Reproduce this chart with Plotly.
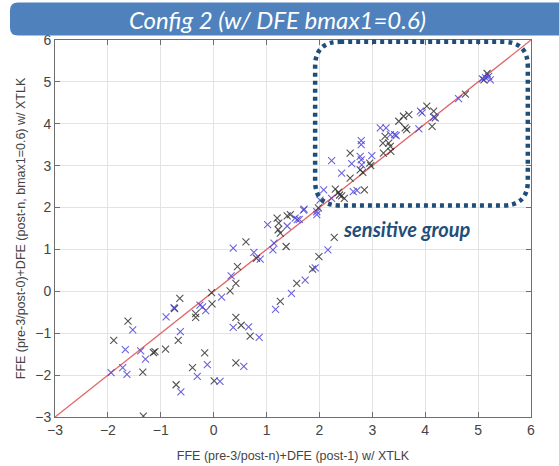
import plotly.graph_objects as go

# ---- data ----
black_x = [-1.62, -1.89, -1.34, -1.33, -1.14, -1.11, -0.91, -0.64, -0.74, -0.67, -0.34, -0.34,
           -0.17, -0.40, -0.71, -0.04, -0.03, 0.01,
           0.61, 0.81, 1.37, 0.31, 0.42, 0.45, 0.42, 0.52, 0.69, 0.42, 1.26, 1.57, 1.87, 1.99, 2.28,
           1.20, 1.23, 1.22, 1.26, 1.39, 1.45, 1.98,
           2.58, 2.58, 2.77, 2.82, 2.95, 2.97, 2.85, 2.30, 2.42, 2.47, 2.36, 2.38,
           3.24, 3.20, 3.31, 3.34, 3.35, 3.21,
           3.50, 3.59, 3.69, 3.62, 3.65,
           4.03, 4.16, 4.19, 4.13,
           4.76, 5.17, 5.11]
black_y = [-0.71, -1.17, -1.93, -2.98, -1.46, -1.44, -1.38, -0.17, -0.41, -1.17, -0.53, -0.62,
           -1.47, -1.82, -2.23, -0.03, -0.30, -2.14,
           1.18, 0.79, 1.07, 0.01, 0.19, 0.59, -0.62, -0.81, -1.07, -1.71, -0.24, 0.19, 0.53, 0.83, 1.29,
           1.75, 1.63, 1.47, 1.39, 1.80, 1.83, 1.99,
           3.30, 2.70, 2.90, 2.84, 3.06, 3.00, 2.42, 2.44, 2.28, 2.22, 2.36, 2.30,
           3.70, 3.54, 3.54, 3.46, 3.34, 3.30,
           4.06, 4.18, 4.22, 3.90, 3.86,
           4.42, 4.30, 4.14, 3.94,
           4.71, 5.20, 5.05]

blue_x = [-1.53, -1.67, -1.38, -1.29, -1.94, -1.72, -1.64, -0.90, -0.63, -0.26, -0.21, -0.15,
          -0.12, -0.31, -0.62, 0.15, 0.12, -0.75,
          0.37, 0.76, 0.88, 1.02, 1.14, 1.12, 0.33, 0.37, 0.66, 0.86, 0.57,
          1.17, 1.47, 1.73, 1.92, 2.16,
          1.54, 1.58, 1.62, 1.71, 1.39, 1.95,
          2.23, 2.79, 2.79, 2.77, 2.79, 2.61, 2.99, 2.42, 2.80,
          3.15, 3.26, 3.34, 3.42, 3.45,
          3.91, 3.94, 4.16, 3.88, 4.63,
          5.08, 5.14, 5.20, 5.23,
          2.64, 2.71, 2.08, 2.01, 1.95, 2.23, 1.70]
blue_y = [-0.92, -1.39, -1.42, -1.62, -1.94, -1.82, -1.98, -0.61, -0.96, -0.33, -0.37, -0.46,
          -1.75, -2.03, -2.40, -0.14, -2.15, -0.39,
          1.03, 0.93, 0.77, 1.59, 1.15, 0.99, 0.37, -0.86, -0.85, -1.10, -1.79,
          -0.43, -0.05, 0.27, 0.56, 0.99,
          1.75, 1.71, 1.72, 1.96, 1.56, 1.83,
          3.12, 3.60, 3.50, 3.22, 3.14, 3.05, 3.24, 2.82, 3.02,
          3.90, 3.90, 3.74, 3.74, 3.72,
          4.30, 4.26, 4.16, 3.88, 4.60,
          5.07, 5.10, 5.13, 5.05,
          2.38, 2.41, 2.42, 2.18, 1.90, 2.22, 1.94]

ref_line = [-3, 6]
tick_vals = [-3, -2, -1, 0, 1, 2, 3, 4, 5, 6]

title_text = "Config 2 (w/ DFE bmax1=0.6)"
group_text = "sensitive group"
x_title = "FFE (pre-3/post-n)+DFE (post-1) w/ XTLK"
y_title = "FFE (pre-3/post-0)+DFE (post-n, bmax1=0.6) w/ XTLK"

BLACK = "rgba(40,40,40,0.8)"
BLUE = "rgba(70,60,210,0.8)"


def rrect(x0, y0, x1, y1, rx, ry):
    return (f"M {x0+rx},{y1} L {x1-rx},{y1} Q {x1},{y1} {x1},{y1-ry} "
            f"L {x1},{y0+ry} Q {x1},{y0} {x1-rx},{y0} L {x0+rx},{y0} "
            f"Q {x0},{y0} {x0},{y0+ry} L {x0},{y1-ry} Q {x0},{y1} {x0+rx},{y1} Z")


fig = go.Figure()
fig.add_trace(go.Scatter(x=ref_line, y=ref_line, mode="lines",
                         line=dict(color="#E06666", width=1.3), hoverinfo="skip"))
fig.add_trace(go.Scatter(x=black_x, y=black_y, mode="markers",
                         marker=dict(symbol="x-thin-open", size=7, color=BLACK,
                                     line=dict(width=1.1, color=BLACK))))
fig.add_trace(go.Scatter(x=blue_x, y=blue_y, mode="markers",
                         marker=dict(symbol="x-thin-open", size=7, color=BLUE,
                                     line=dict(width=1.1, color=BLUE))))

axis_common = dict(range=[-3, 6], tickvals=tick_vals, showgrid=True, gridcolor="#E3E3E3",
                   gridwidth=1, zeroline=False, showline=True, linecolor="#6e6e6e",
                   linewidth=1, mirror="ticks", ticks="inside", ticklen=5, tickcolor="#6e6e6e",
                   automargin=False,
                   tickfont=dict(family="Liberation Sans", size=14, color="#444"))

fig.update_layout(
    width=559, height=466,
    margin=dict(l=55, r=28, t=40, b=49),
    paper_bgcolor="white", plot_bgcolor="white",
    showlegend=False,
    xaxis=dict(**axis_common,
               title=dict(text=x_title, standoff=14,
                          font=dict(family="Liberation Sans", size=12.5, color="#444"))),
    yaxis=dict(**axis_common,
               title=dict(text=y_title, standoff=6,
                          font=dict(family="Liberation Sans", size=12.5, color="#444"))),
)

# dotted rounded box (paper coords)
fig.add_shape(type="path", xref="paper", yref="paper",
              path=rrect(0.5465, 0.561, 0.9933, 0.9952, 0.0526, 0.0651),
              line=dict(color="#1F4E79", width=4.5, dash="4px,4px"), layer="above")

# title banner
fig.add_shape(type="path", xref="paper", yref="paper",
              path=rrect(-0.0946, 1.012, 1.2, 1.0997, 0.0168, 0.0213),
              fillcolor="#4F81BD", line=dict(width=0), layer="above")

fig.add_annotation(x=0.4665, y=1.0545, xref="paper", yref="paper", text=f"<i>{title_text}</i>",
                   showarrow=False, font=dict(family="Lato", size=24, color="white"),
                   xanchor="center", yanchor="middle")
fig.add_annotation(x=0.7395, y=0.499, xref="paper", yref="paper", text=f"<b><i>{group_text}</i></b>",
                   showarrow=False, font=dict(family="Lato", size=20, color="#1F4E79"),
                   xanchor="center", yanchor="middle")

fig.write_html("out.html")
